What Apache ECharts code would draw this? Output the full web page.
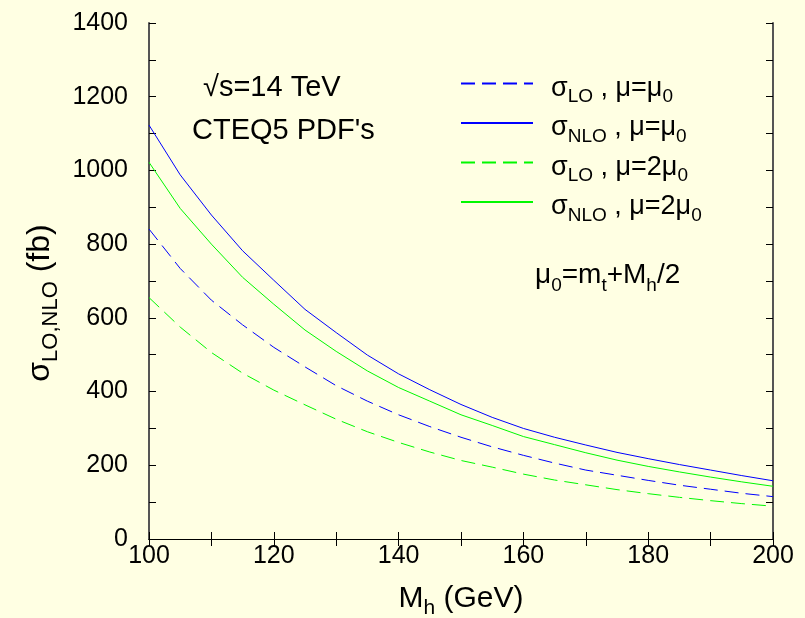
<!DOCTYPE html>
<html>
<head>
<meta charset="utf-8">
<script src="https://cdn.jsdelivr.net/npm/echarts@6/dist/echarts.min.js"></script>
<style>
html,body{margin:0;padding:0;background:#ffffe3;overflow:hidden;}
#c{width:805px;height:618px;}
</style>
</head>
<body>
<div id="c"></div>
<script>
const mh = [100,105,110,115,120,125,130,135,140,145,150,155,160,165,170,175,180,185,190,195,200];
const loMu0   = [841,734,648,581,520,467,416,374,337,305,276,250,227,206,187,173,159,146,135,124,115];
const nloMu0  = [1123,988,879,782,702,623,560,499,448,405,365,330,300,276,255,235,218,202,187,172,158];
const lo2Mu0  = [655,575,506,450,404,364,325,291,262,236,213,195,176,160,147,134,123,113,104,96,89];
const nlo2Mu0 = [1022,897,800,710,637,567,509,456,411,374,337,308,278,256,234,214,197,182,168,155,143];
const seriesNames = ['LO_mu0','NLO_mu0','LO_2mu0','NLO_2mu0'];
const legendTexts = {
  'LO_mu0':   '{m|σ}{s|LO}{m| , μ=μ}{s|0}',
  'NLO_mu0':  '{m|σ}{s|NLO}{m| , μ=μ}{s|0}',
  'LO_2mu0':  '{m|σ}{s|LO}{m| , μ=2μ}{s|0}',
  'NLO_2mu0': '{m|σ}{s|NLO}{m| , μ=2μ}{s|0}'
};
const xTicks = {min:100, max:200, step:10, labelStep:20};
const yTicks = {min:0, max:1400, step:100, labelStep:200};

const FONT = 'Liberation Sans, Arial, Helvetica, sans-serif';
const blue = '#0000ff', green = '#00f800';
const dash = [14,7];

function mkRich(main, sub, lh){
  return {
    m: {fontSize:main, fontFamily:FONT, color:'#000', lineHeight:lh, verticalAlign:'middle'},
    s: {fontSize:sub, fontFamily:FONT, color:'#000', lineHeight:lh, verticalAlign:'bottom'}
  };
}
const richLegend = mkRich(27, 19, 36);
const richAnno = mkRich(28, 19, 40);
const richXAxis = mkRich(30, 21, 40);
const richYAxis = mkRich(32, 22, 42);

function pairs(arr){ return mh.map((x,i)=>[x, arr[i]]); }

const chart = echarts.init(document.getElementById('c'), null, {renderer:'canvas'});
const axisCommon = {
  axisTick:{inside:true, length:7, lineStyle:{color:'#000', width:1}},
  splitLine:{show:false}
};
chart.setOption({
  backgroundColor:'#ffffe3',
  animation:false,
  grid:{left:149, right:32, top:23, bottom:79, containLabel:false, outerBoundsMode:'none'},
  xAxis:[{
    type:'value', min:xTicks.min, max:xTicks.max, interval:xTicks.step, position:'bottom',
    axisLine:{lineStyle:{color:'#000', width:1}},
    ...axisCommon,
    axisLabel:{fontSize:25, fontFamily:FONT, color:'#000', margin:5,
      formatter:v => (v % xTicks.labelStep === 0 ? String(v) : '')},
    name:'{m|M}{s|h}{m| (GeV)}', nameLocation:'middle', nameGap:40,
    nameTextStyle:{rich:richXAxis}
  },{
    type:'value', min:xTicks.min, max:xTicks.max, interval:xTicks.step, position:'top',
    axisLine:{lineStyle:{color:'#000', width:1}},
    ...axisCommon, axisLabel:{show:false}
  }],
  yAxis:[{
    type:'value', min:yTicks.min, max:yTicks.max, interval:yTicks.step, position:'left',
    axisLine:{lineStyle:{color:'#555', width:2}},
    ...axisCommon,
    axisLabel:{fontSize:25, fontFamily:FONT, color:'#000', margin:21,
      formatter:v => (v % yTicks.labelStep === 0 ? String(v) : '')},
    name:'{m|σ}{s|LO,NLO}{m| (fb)}', nameLocation:'middle', nameGap:87, nameRotate:90,
    nameTextStyle:{rich:richYAxis, padding:[0,44,0,0]}
  },{
    type:'value', min:yTicks.min, max:yTicks.max, interval:yTicks.step, position:'right',
    axisLine:{lineStyle:{color:'#555', width:2}},
    ...axisCommon, axisLabel:{show:false}
  }],
  legend:{
    orient:'vertical', left:460, top:75, padding:0, itemGap:8,
    itemWidth:72, itemHeight:14,
    data:seriesNames,
    formatter:n => legendTexts[n],
    itemStyle:{opacity:0},
    textStyle:{rich:richLegend, padding:[10,0,0,13]}
  },
  series:[
    {name:'LO_mu0', type:'line', data:pairs(loMu0), symbol:'none', lineStyle:{color:blue, width:1, type:dash}, itemStyle:{color:blue}},
    {name:'NLO_mu0', type:'line', data:pairs(nloMu0), symbol:'none', lineStyle:{color:blue, width:1}, itemStyle:{color:blue}},
    {name:'LO_2mu0', type:'line', data:pairs(lo2Mu0), symbol:'none', lineStyle:{color:green, width:1, type:dash}, itemStyle:{color:green}},
    {name:'NLO_2mu0', type:'line', data:pairs(nlo2Mu0), symbol:'none', lineStyle:{color:green, width:1}, itemStyle:{color:green}}
  ],
  graphic:[
    {type:'text', left:203, top:73, style:{text:'√s=14 TeV', font:'29px '+FONT, fill:'#000'}},
    {type:'text', left:192, top:116, style:{text:"CTEQ5 PDF's", font:'29px '+FONT, fill:'#000'}},
    {type:'text', left:535, top:261, style:{text:'{m|μ}{s|0}{m|=m}{s|t}{m|+M}{s|h}{m|/2}', rich:richAnno}}
  ]
});
</script>
</body>
</html>
